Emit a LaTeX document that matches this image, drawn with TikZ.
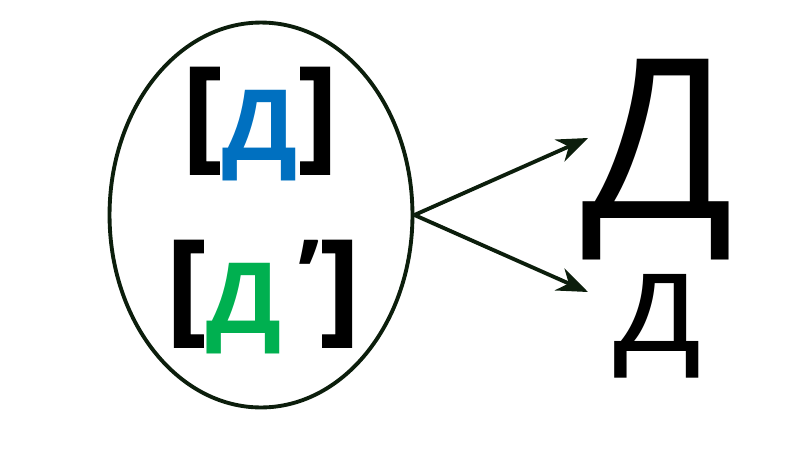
\documentclass[tikz,border=0pt]{standalone}
\usepackage{fontspec}
\setmainfont{Open Sans}
\newfontfamily\brkfont[FakeBold=0.8]{Open Sans}
\usetikzlibrary{
    arrows.meta,
    positioning,
    shapes.geometric
}
\definecolor{soundBlue}{RGB}{0,112,192}
\definecolor{soundGreen}{RGB}{0,176,80}
\definecolor{rimGreen}{RGB}{12,30,12}
\newcommand{\lbrk}{\raisebox{0.1cm}{\fontsize{70}{70}\selectfont\brkfont[}}
\newcommand{\rbrk}{\raisebox{0.1cm}{\fontsize{70}{70}\selectfont\brkfont]}}
\tikzset{
  sound/.style  = {anchor=base, inner sep=0pt, font=\fontsize{56}{56}\selectfont\bfseries},
  letter/.style = {anchor=base, inner sep=0pt},
  arr/.style    = {-{Stealth[length=0.62cm, width=0.48cm, inset=0.2cm]},
                   line width=2.2pt, rimGreen}
}

\begin{document}
\begin{tikzpicture}[x=0.02cm, y=-0.02cm]
    \useasboundingbox (0,0) rectangle (800,450);

    \node[draw=rimGreen, line width=2.2pt, ellipse, minimum width=6.06cm,
          minimum height=7.7cm] (pair) at (261,215) {};

    \node[sound] (hard) at (260,160) {\lbrk\textcolor{soundBlue}{Д}\rbrk};
    \node[sound] (soft) at (263,333) {\lbrk\textcolor{soundGreen}{Д}\,\raisebox{0.45cm}{’}\rbrk};

    \node[letter, text depth=0.6cm, font=\fontsize{127}{127}\selectfont] (upper) at (658,218) {Д};
    \node[letter, text height=1.45cm, font=\fontsize{82}{82}\selectfont] (lower) at (657,351)
         {\scalebox{1.1}[1]{д}};

    \coordinate (toUpper) at (588,138);
    \coordinate (toLower) at (588,292);

    \draw[arr] (pair.east) -- (toUpper);
    \draw[arr] (pair.east) -- (toLower);
\end{tikzpicture}
\end{document}
